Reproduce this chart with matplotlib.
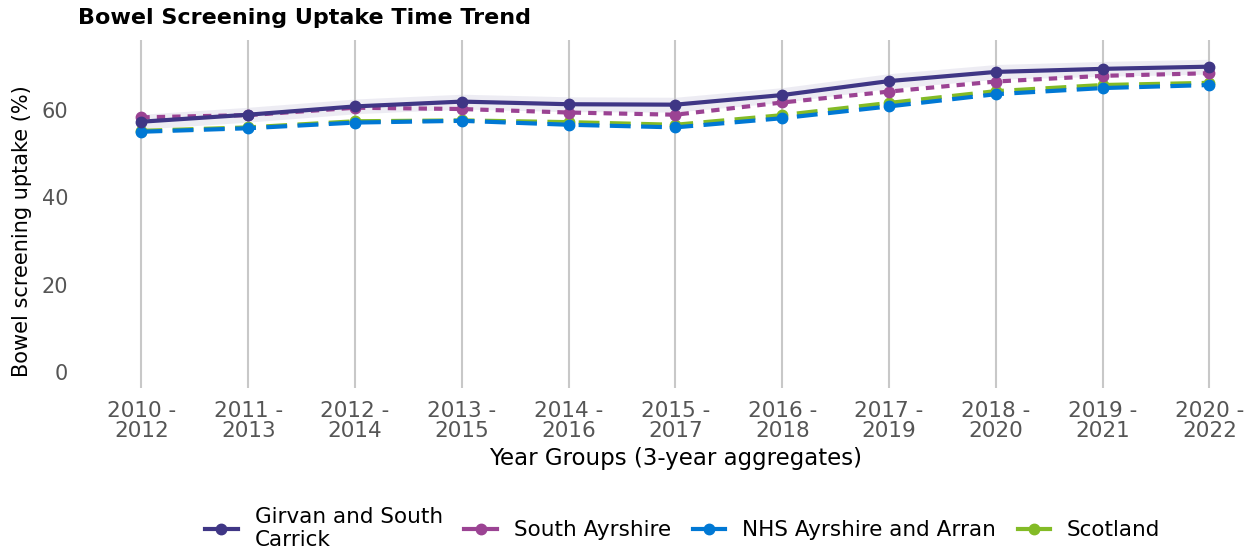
import matplotlib
matplotlib.use("Agg")
import matplotlib.pyplot as plt
from matplotlib.lines import Line2D

periods = ["2010 -\n2012", "2011 -\n2013", "2012 -\n2014", "2013 -\n2015", "2014 -\n2016",
           "2015 -\n2017", "2016 -\n2018", "2017 -\n2019", "2018 -\n2020", "2019 -\n2021",
           "2020 -\n2022"]
girvan = [57.3, 58.9, 60.8, 61.9, 61.3, 61.2, 63.4, 66.6, 68.7, 69.4, 69.9]
girvan_lo = [55.6, 57.2, 59.1, 60.2, 59.6, 59.5, 61.7, 64.9, 67.0, 67.7, 68.2]
girvan_hi = [59.0, 60.6, 62.5, 63.6, 63.0, 62.9, 65.1, 68.3, 70.4, 71.1, 71.6]
south_ayrshire = [58.3, 58.8, 60.5, 60.2, 59.4, 58.9, 61.7, 64.2, 66.5, 67.8, 68.4]
nhs_aa = [55.0, 55.8, 57.1, 57.5, 56.6, 56.0, 58.1, 60.8, 63.6, 65.0, 65.7]
scotland = [55.2, 56.0, 57.4, 57.6, 57.2, 56.6, 58.8, 61.6, 64.3, 65.7, 66.2]

names = ["Girvan and South\nCarrick", "South Ayrshire", "NHS Ayrshire and Arran", "Scotland"]
colors = ["#3f3685", "#9b4393", "#0078d4", "#83bb26"]

fig = plt.figure(figsize=(12.53, 5.56), dpi=100)
ax = fig.add_axes([0.06, 0.302, 0.93, 0.626])
x = list(range(len(periods)))

ax.fill_between(x, girvan_lo, girvan_hi, color="#3f3685", alpha=0.09, linewidth=0, zorder=1)
ax.plot(x, scotland, color=colors[3], lw=3, ls=(0, (5, 2.5)), marker="o", ms=7.5, zorder=3)
ax.plot(x, nhs_aa, color=colors[2], lw=3, ls=(0, (5, 2.5)), marker="o", ms=7.5, zorder=4)
ax.plot(x, south_ayrshire, color=colors[1], lw=3, ls=(0, (2, 1.7)), marker="o", ms=7.5, zorder=5)
ax.plot(x, girvan, color=colors[0], lw=3, ls="-", marker="o", ms=7.5, zorder=6)

ax.set_xlim(-0.62, 10.29)
ax.set_ylim(-3.7, 76)
ax.set_xticks(x)
ax.set_xticklabels(periods, fontsize=15.5, color="#555555", linespacing=1.05)
ax.set_yticks([0, 20, 40, 60])
ax.set_yticklabels(["0", "20", "40", "60"], fontsize=15, color="#555555")
ax.tick_params(axis="x", length=0, pad=9)
ax.tick_params(axis="y", length=0, pad=5)
for s in ax.spines.values():
    s.set_visible(False)
ax.grid(axis="x", color="#c8c8c8", lw=1.5, zorder=0)
ax.grid(axis="y", visible=False)
ax.set_xlabel("Year Groups (3-year aggregates)", fontsize=16.5)
ax.xaxis.set_label_coords(0.515, -0.17)
ax.set_ylabel("Bowel screening uptake (%)", fontsize=15)
ax.yaxis.set_label_coords(-0.037, 0.45)

fig.text(0.062, 0.967, "Bowel Screening Uptake Time Trend", fontsize=16, fontweight="bold",
         va="center", ha="left")

handles = [Line2D([0], [0], color=c, lw=3, marker="o", ms=7.5) for c in colors]
fig.legend(handles, names, loc="center", bbox_to_anchor=(0.545, 0.05), ncol=4, frameon=False,
           fontsize=15.5, handlelength=1.5, handletextpad=0.8, columnspacing=1.0)

fig.savefig("out.png", dpi=100)
